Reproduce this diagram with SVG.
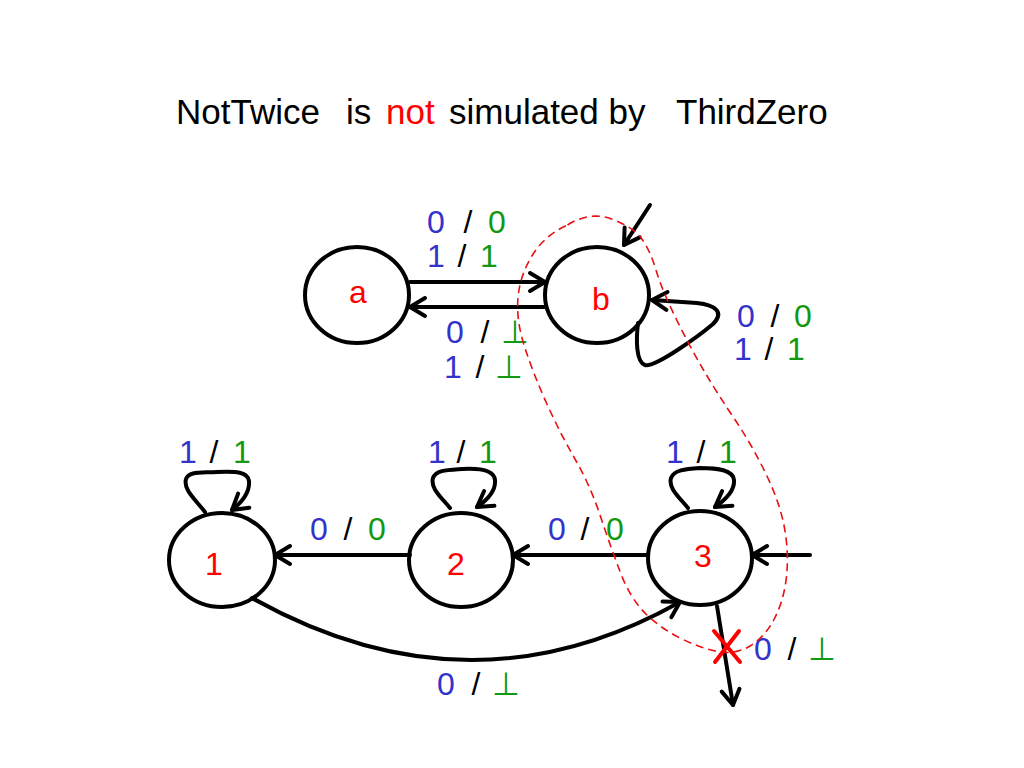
<svg xmlns="http://www.w3.org/2000/svg" width="1024" height="768" viewBox="0 0 1024 768">
<defs>
<marker id="arr" viewBox="-18 -12 22 24" markerWidth="22" markerHeight="24" refX="0" refY="0" orient="auto" markerUnits="userSpaceOnUse">
<path d="M-15,-9 L0,0 L-15,9" fill="none" stroke="#000" stroke-width="4" stroke-linecap="round" stroke-linejoin="round"/>
</marker>
</defs>
<style>
text{font-family:"Liberation Sans","DejaVu Sans",Arial,sans-serif;}
.title{font-size:35px;fill:#000;}
.lbl{font-size:32px;text-anchor:middle;}
.b{fill:#3333cc;}
.g{fill:#119911;}
.k{fill:#000;}
.r{fill:#ff0000;}
.node{fill:#fff;stroke:#000;stroke-width:4;}
.nl{font-size:32px;fill:#ff0000;text-anchor:middle;}
.edge{fill:none;stroke:#000;stroke-width:4;stroke-linecap:round;marker-end:url(#arr);}
.region{fill:none;stroke:#e81010;stroke-width:1.6;stroke-dasharray:8 5;}
</style>
<rect width="1024" height="768" fill="#fff"/>
<g id="title" class="title">
<text x="176" y="124">NotTwice</text>
<text x="346" y="124">is</text>
<text x="386" y="124" class="r">not</text>
<text x="449" y="124">simulated by</text>
<text x="676" y="124">ThirdZero</text>
</g>
<g id="nodes">
<g id="node-a"><ellipse class="node" cx="357" cy="295" rx="52" ry="48"/><text class="nl" x="358" y="303">a</text></g>
<g id="node-b"><ellipse class="node" cx="597" cy="295" rx="52" ry="48"/><text class="nl" x="601" y="310">b</text></g>
<g id="node-1"><ellipse class="node" cx="222" cy="560" rx="53" ry="47"/><text class="nl" x="214" y="575">1</text></g>
<g id="node-2"><ellipse class="node" cx="461" cy="560" rx="52" ry="47"/><text class="nl" x="456" y="575">2</text></g>
<g id="node-3"><ellipse class="node" cx="700" cy="558" rx="52" ry="47"/><text class="nl" x="703" y="567">3</text></g>
</g>
<g id="connectors">
<path class="edge" d="M410,282 L545,282"/>
<path class="edge" d="M545,307 L410,307"/>
<path class="edge" d="M650,205 L624,245"/>
<path class="edge" d="M638,323 C636,340 636,362 645,365 C655,368 700,335 713,324 C725,312 715,305 697,303 L652,300"/>
<path class="edge" d="M205,512 C196,500 183,490 186,479 C189,471 200,473 217,472 C236,471 248,472 249,481 C250,492 242,502 232,510"/>
<path class="edge" d="M450,508 C441,497 430,488 433,478 C436,470 447,470 462,469 C480,468 494,470 495,480 C496,491 487,500 477,507"/>
<path class="edge" d="M688,508 C679,497 668,488 671,478 C674,470 685,469 700,468 C718,468 733,470 734,480 C735,491 725,500 715,507"/>
<path class="edge" d="M648,555 L513,555"/>
<path class="edge" d="M410,555 L275,555"/>
<path class="edge" d="M810,555 L752,555"/>
<path class="edge" d="M717,606 L733,705"/>
<path class="edge" d="M252,598 Q470,720 680,602"/>
</g>
<g id="labels" class="lbl">
<text y="233"><tspan class="b" x="436">0</tspan><tspan class="k" x="468">/</tspan><tspan class="g" x="497">0</tspan></text>
<text y="267"><tspan class="b" x="436">1</tspan><tspan class="k" x="462">/</tspan><tspan class="g" x="489">1</tspan></text>
<text y="343"><tspan class="b" x="455">0</tspan><tspan class="k" x="485">/</tspan><tspan class="g" x="515">⊥</tspan></text>
<text y="378"><tspan class="b" x="453">1</tspan><tspan class="k" x="480">/</tspan><tspan class="g" x="509">⊥</tspan></text>
<text y="327"><tspan class="b" x="746">0</tspan><tspan class="k" x="775">/</tspan><tspan class="g" x="803">0</tspan></text>
<text y="360"><tspan class="b" x="743">1</tspan><tspan class="k" x="769">/</tspan><tspan class="g" x="796">1</tspan></text>
<text y="463"><tspan class="b" x="188">1</tspan><tspan class="k" x="214">/</tspan><tspan class="g" x="242">1</tspan></text>
<text y="463"><tspan class="b" x="437">1</tspan><tspan class="k" x="461">/</tspan><tspan class="g" x="488">1</tspan></text>
<text y="463"><tspan class="b" x="675">1</tspan><tspan class="k" x="701">/</tspan><tspan class="g" x="728">1</tspan></text>
<text y="540"><tspan class="b" x="319">0</tspan><tspan class="k" x="348">/</tspan><tspan class="g" x="377">0</tspan></text>
<text y="540"><tspan class="b" x="557">0</tspan><tspan class="k" x="585">/</tspan><tspan class="g" x="615">0</tspan></text>
<text y="695"><tspan class="b" x="446">0</tspan><tspan class="k" x="476">/</tspan><tspan class="g" x="506">⊥</tspan></text>
<text y="660"><tspan class="b" x="763">0</tspan><tspan class="k" x="792">/</tspan><tspan class="g" x="822">⊥</tspan></text>
</g>
<g id="region">
<path class="region" d="M567.5,225 Q590,211 611.5,219 Q633,227 641.5,238.5 Q650,250 656,270 Q662,290 676,318.5 Q690,347 703.5,370 Q717,393 734.5,419 Q752,445 766,474 Q780,503 784.5,528 Q789,553 786.5,576.5 Q784,600 774.5,618.5 Q765,637 750,646 Q735,655 717.5,651.5 Q700,648 680,638 Q660,628 645,613 Q630,598 620,571.5 Q610,545 600,515 Q590,485 575,459 Q560,433 546.5,403 Q533,373 524.5,346.5 Q516,320 518,297.5 Q520,275 532.5,255 Q545,235 567.5,225 Z"/>
</g>
<g id="cross" stroke="#ff0000" stroke-width="4" stroke-linecap="round">
<line x1="714" y1="631" x2="740" y2="662"/>
<line x1="739" y1="631" x2="715" y2="662"/>
</g>
</svg>
